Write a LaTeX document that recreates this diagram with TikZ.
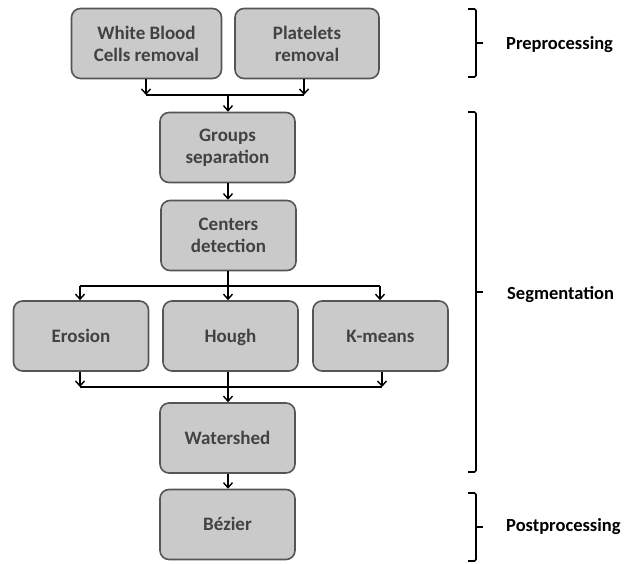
\documentclass[tikz,border=0pt]{standalone}
\usepackage{fontspec}
\setmainfont{Carlito}
\usetikzlibrary{arrows.meta}
\definecolor{boxfill}{HTML}{CACACA}
\definecolor{boxdraw}{HTML}{555555}
\definecolor{boxtext}{HTML}{424242}
\tikzset{
  stepbox/.style={draw=boxdraw, line width=1.6pt, fill=boxfill, rounded corners=9pt,
    minimum width=135pt, minimum height=70pt, align=center, inner sep=2pt,
    text=boxtext, font=\fontsize{19}{22}\selectfont\bfseries},
  oneline/.style={text height=14pt, text depth=2pt},
  conn/.style={line width=1.4pt, black},
  arr/.style={conn, -{Straight Barb[length=5pt,width=9pt,line width=1.4pt]}},
  bracket/.style={line width=1.6pt, black, rounded corners=1.5pt},
  phase/.style={anchor=west, font=\fontsize{18.5}{22}\selectfont\bfseries, text=black, inner sep=0pt}
}
\begin{document}
\begin{tikzpicture}[x=1pt,y=-1pt]
\useasboundingbox (0,0) rectangle (632,564);
% boxes
\node[stepbox, minimum width=150pt] (wbc) at (146.5,43.5) {White Blood\\Cells removal};
\node[stepbox, minimum width=144pt] (plt) at (307,43.5) {Platelets\\removal};
\node[stepbox] (grp) at (227.5,147.5) {Groups\\separation};
\node[stepbox] (cen) at (228.5,235.5) {Centers\\detection};
\node[stepbox, oneline] (ero) at (81,336) {Erosion};
\node[stepbox, oneline] (hou) at (230.5,336) {Hough};
\node[stepbox, oneline] (kme) at (380.5,336) {K-means};
\node[stepbox, oneline] (wat) at (227.5,438) {Watershed};
\node[stepbox, oneline] (bez) at (227.5,524.5) {Bézier};
% junction coordinates
\coordinate (j1l) at (146,95);
\coordinate (j1r) at (304,95);
\coordinate (j1m) at (228,95);
\coordinate (j2l) at (80,286);
\coordinate (j2m) at (228,286);
\coordinate (j2r) at (380,286);
\coordinate (j3l) at (80,387);
\coordinate (j3r) at (382,387);
% preprocessing connectors
\draw[arr] (wbc.south -| j1l) -- (j1l);
\draw[arr] (plt.south -| j1r) -- (j1r);
\draw[conn] (j1l) -- (j1r);
\draw[arr] (j1m) -- (grp.north -| j1m);
\draw[arr] (grp.south -| j1m) -- (cen.north -| j1m);
% fan out
\draw[conn] (cen.south -| j2m) -- (j2m);
\draw[conn] (j2l) -- (j2r);
\draw[arr] (j2l) -- (ero.north -| j2l);
\draw[arr] (j2m) -- (hou.north -| j2m);
\draw[arr] (j2r) -- (kme.north -| j2r);
% fan in
\draw[arr] (ero.south -| j3l) -- (j3l);
\draw[arr] (kme.south -| j3r) -- (j3r);
\draw[conn] (j3l) -- (j3r);
\draw[arr] (hou.south -| j2m) -- (wat.north -| j2m);
\draw[arr] (wat.south -| j2m) -- (bez.north -| j2m);
% brackets
\draw[bracket] (468,9) -- (476,9) -- (476,77) -- (468,77);
\draw[bracket, rounded corners=0pt] (476,43) -- (483,43);
\node[phase] (pre) at (506,45) {Preprocessing};
\draw[bracket] (468,112) -- (476,112) -- (476,472) -- (468,472);
\draw[bracket, rounded corners=0pt] (476,292) -- (483,292);
\node[phase] (seg) at (507,295) {Segmentation};
\draw[bracket] (468,493) -- (476,493) -- (476,561) -- (468,561);
\draw[bracket, rounded corners=0pt] (476,527) -- (483,527);
\node[phase] (post) at (506,527) {Postprocessing};
\end{tikzpicture}
\end{document}
